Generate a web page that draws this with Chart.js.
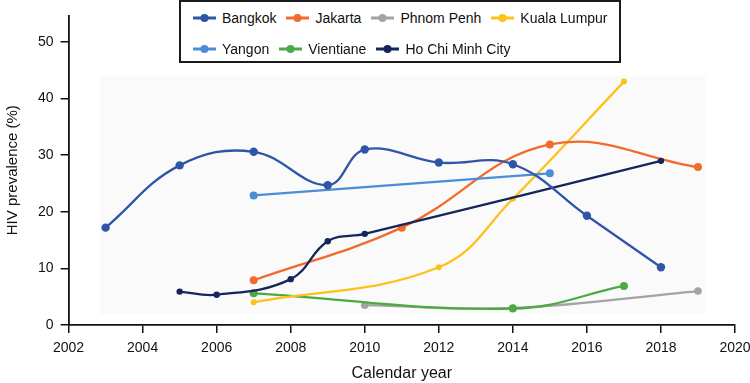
<!DOCTYPE html>
<html>
<head>
<meta charset="utf-8">
<script src="https://cdn.jsdelivr.net/npm/chart.js@4/dist/chart.umd.min.js"></script>
<style>
  html, body { margin: 0; padding: 0; background: #fff; }
  #wrap { position: relative; width: 750px; height: 383px; overflow: hidden; font-family: "Liberation Sans", Arial, sans-serif; }
  #c { position: absolute; left: 0; top: 0; }
  #legend {
    position: absolute; left: 179px; top: 0px;
    border: 2px solid #1a1a1a; background: #fff;
    display: flex; flex-wrap: wrap; align-content: flex-start;
    padding: 0 0 0 12px; box-sizing: border-box; width: 442px; height: 63px;
  }
  .li { display: flex; align-items: center; height: 31px; margin-right: 10px; font-size: 14px; color: #111; white-space: nowrap; }
  .li svg { margin-right: 6px; }
  .row { display: flex; width: 100%; }
</style>
</head>
<body>
<div id="wrap">
  <canvas id="c" width="750" height="383"></canvas>
  <div id="legend"></div>
</div>
<script>
// ---- Data ----
const seriesNames = ["Bangkok", "Jakarta", "Phnom Penh", "Kuala Lumpur", "Yangon", "Vientiane", "Ho Chi Minh City"];

const bangkokYears = [2003, 2005, 2007, 2009, 2010, 2012, 2014, 2016, 2018];
const bangkokValues = [17.2, 28.2, 30.6, 24.7, 31.0, 28.7, 28.4, 19.3, 10.2];

const jakartaYears = [2007, 2011, 2015, 2019];
const jakartaValues = [7.9, 17.2, 31.9, 27.9];

const phnomPenhYears = [2010, 2014, 2019];
const phnomPenhValues = [3.5, 3.0, 6.0];

const kualaLumpurYears = [2007, 2012, 2014, 2017];
const kualaLumpurValues = [4.0, 10.2, 22.3, 43.0];

const yangonYears = [2007, 2015];
const yangonValues = [22.9, 26.8];

const vientianeYears = [2007, 2014, 2017];
const vientianeValues = [5.6, 2.9, 6.9];

const hcmcYears = [2005, 2006, 2008, 2009, 2010, 2018];
const hcmcValues = [5.9, 5.35, 8.1, 14.8, 16.1, 29.0];

const xTickValues = [2002, 2004, 2006, 2008, 2010, 2012, 2014, 2016, 2018, 2020];
const yTickValues = [0, 10, 20, 30, 40, 50];

// ---- Styling ----
const colors = ["#2f55a6", "#f26b2c", "#a3a3a3", "#fdc21a", "#4a8ed6", "#4da944", "#15265c"];
const pointRadii = [4.2, 4, 3.8, 3, 4, 4, 3.2];

function pts(xs, ys) { return xs.map((x, i) => ({ x: x, y: ys[i] })); }
const seriesData = [
  pts(bangkokYears, bangkokValues),
  pts(jakartaYears, jakartaValues),
  pts(phnomPenhYears, phnomPenhValues),
  pts(kualaLumpurYears, kualaLumpurValues),
  pts(yangonYears, yangonValues),
  pts(vientianeYears, vientianeValues),
  pts(hcmcYears, hcmcValues)
];

const drawOrder = [2, 5, 3, 1, 4, 6, 0];

const datasets = seriesNames.map((name, i) => ({
  label: name,
  data: seriesData[i],
  borderColor: colors[i],
  backgroundColor: colors[i],
  pointBackgroundColor: colors[i],
  pointBorderColor: colors[i],
  pointRadius: pointRadii[i],
  pointBorderWidth: 0,
  borderWidth: 2.3,
  tension: 0.4,
  fill: false,
  order: drawOrder.length - drawOrder.indexOf(i)
}));

// faint plot panel (extent in data units)
const panelX = [2002.86, 2019.2];
const panelY = [1.95, 44.1];
const panelPlugin = {
  id: 'panel',
  beforeDatasetsDraw(chart) {
    const { ctx, scales: { x, y } } = chart;
    const x0 = x.getPixelForValue(panelX[0]), x1 = x.getPixelForValue(panelX[1]);
    const y0 = y.getPixelForValue(panelY[1]), y1 = y.getPixelForValue(panelY[0]);
    ctx.save();
    ctx.fillStyle = '#fafafb';
    ctx.fillRect(x0, y0, x1 - x0, y1 - y0);
    ctx.restore();
  }
};

Chart.defaults.font.family = '"Liberation Sans", Arial, sans-serif';
Chart.defaults.color = '#111';

new Chart(document.getElementById('c'), {
  type: 'line',
  data: { datasets: datasets },
  options: {
    responsive: false,
    animation: false,
    layout: { padding: { left: 4, top: 14, right: 0, bottom: 0 } },
    plugins: { legend: { display: false }, tooltip: { enabled: false } },
    scales: {
      x: {
        type: 'linear',
        min: 2002, max: 2020,
        afterBuildTicks(s) { s.ticks = xTickValues.map(v => ({ value: v })); },
        afterFit(s) { s.paddingRight = 15; },
        ticks: { font: { size: 14 }, color: '#111', padding: 7, maxRotation: 0, callback: v => String(v) },
        grid: { display: true, drawOnChartArea: false, drawTicks: true, tickLength: 8, color: '#111', lineWidth: 1.5 },
        border: { display: true, color: '#111', width: 1.8 },
        title: { display: true, text: 'Calendar year', font: { size: 16 }, color: '#111', padding: { top: 0, bottom: 0 } }
      },
      y: {
        type: 'linear',
        min: 0, max: 54.7,
        afterBuildTicks(s) { s.ticks = yTickValues.map(v => ({ value: v })); },
        ticks: { font: { size: 14 }, color: '#111', padding: 7, callback: v => String(v) },
        grid: { display: true, drawOnChartArea: false, drawTicks: true, tickLength: 8, color: '#111', lineWidth: 1.5 },
        border: { display: true, color: '#111', width: 1.8 },
        title: { display: true, text: 'HIV prevalence (%)', font: { size: 15 }, color: '#111', padding: { top: 0, bottom: 9 } }
      }
    }
  },
  plugins: [panelPlugin]
});

// ---- HTML legend built from the datasets ----
const legendRows = [[0, 1, 2, 3], [4, 5, 6]];
const legendEl = document.getElementById('legend');
legendRows.forEach(row => {
  const r = document.createElement('div');
  r.className = 'row';
  row.forEach(i => {
    const item = document.createElement('div');
    item.className = 'li';
    item.innerHTML = '<svg width="23" height="10"><line x1="0" y1="5" x2="23" y2="5" stroke="' + colors[i] +
      '" stroke-width="3"/><circle cx="11.5" cy="5" r="4" fill="' + colors[i] + '"/></svg>';
    const t = document.createElement('span');
    t.textContent = seriesNames[i];
    item.appendChild(t);
    r.appendChild(item);
  });
  legendEl.appendChild(r);
});
</script>
</body>
</html>
